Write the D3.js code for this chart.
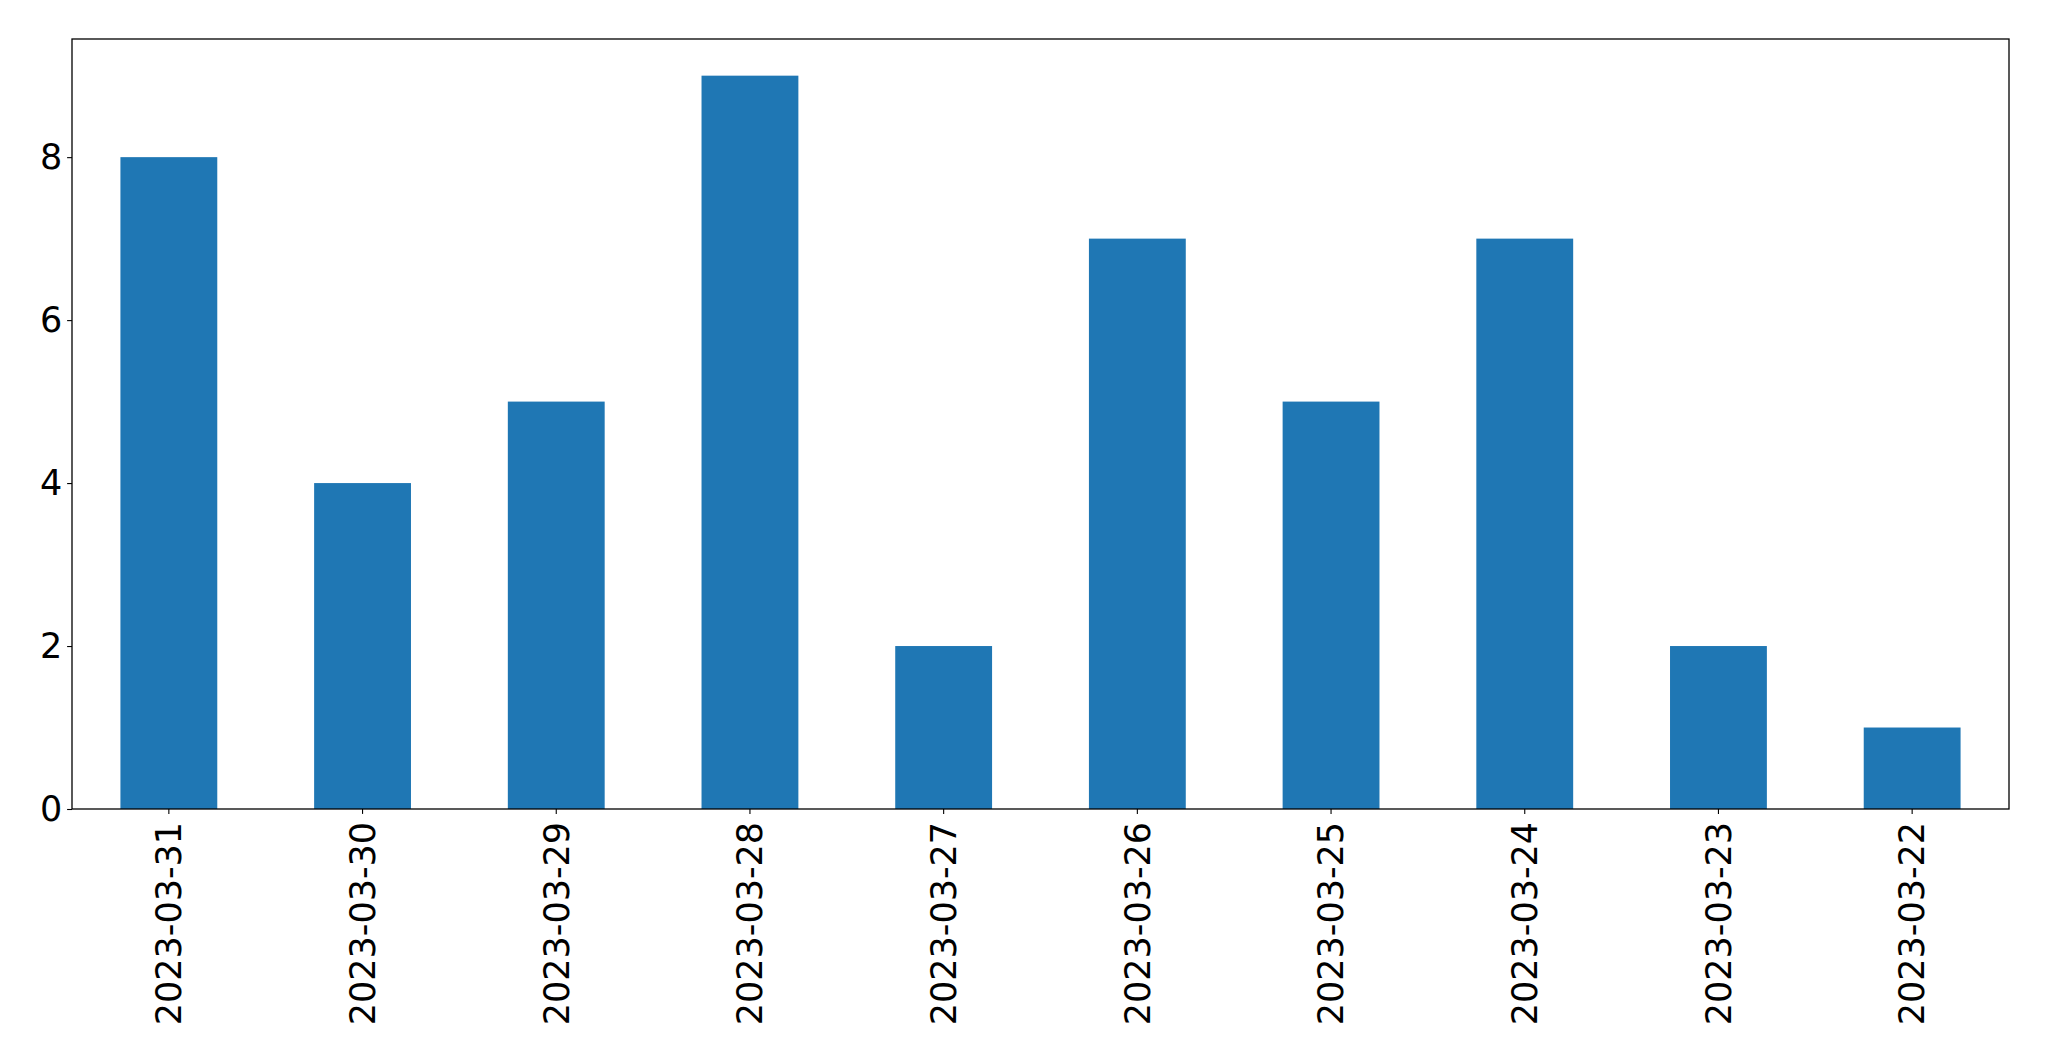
<!DOCTYPE html>
<html><head><meta charset="utf-8">
<script src="https://cdn.jsdelivr.net/npm/d3@7"></script>
<style>html,body{margin:0;padding:0;background:#fff;}svg{display:block;}</style>
</head><body>
<script>
const categories = ["2023-03-31","2023-03-30","2023-03-29","2023-03-28","2023-03-27","2023-03-26","2023-03-25","2023-03-24","2023-03-23","2023-03-22"];
const values = [8,4,5,9,2,7,5,7,2,1];
const yTicks = [0,2,4,6,8];

const W = 2049, H = 1061;
const m = {left:72, top:39, right:2049-2009, bottom:1061-809};
const svg = d3.select("body").append("svg").attr("width",W).attr("height",H);
const iw = W-m.left-m.right, ih = H-m.top-m.bottom;
const g = svg.append("g").attr("transform",`translate(${m.left},${m.top})`);

const x = d3.scaleBand().domain(categories).range([0,iw]).paddingInner(0.5).paddingOuter(0.25);
const y = d3.scaleLinear().domain([0, 9.45]).range([ih,0]);

g.selectAll("rect.bar").data(values).join("rect")
  .attr("class","bar")
  .attr("x",(d,i)=>x(categories[i]))
  .attr("width",x.bandwidth())
  .attr("y",d=>y(d))
  .attr("height",d=>ih-y(d))
  .attr("fill","#1f77b4");

const font = "'DejaVu Sans', sans-serif";
const fs = "35px";

const yAxis = g.append("g").call(d3.axisLeft(y).tickValues(yTicks).tickFormat(d3.format("d")).tickSize(4.9).tickPadding(4.9));
yAxis.select(".domain").remove();
yAxis.selectAll("line").attr("stroke","#000").attr("stroke-width",1.1);
yAxis.selectAll("text").attr("font-family",font).attr("font-size",fs).attr("fill","#000");

const xAxis = g.append("g").attr("transform",`translate(0,${ih})`)
  .call(d3.axisBottom(x).tickSize(4.9).tickPadding(4.9));
xAxis.select(".domain").remove();
xAxis.selectAll("line").attr("stroke","#000").attr("stroke-width",1.1);
xAxis.selectAll("text").attr("font-family",font).attr("font-size",fs).attr("fill","#000")
  .attr("transform","rotate(-90)")
  .attr("text-anchor","end")
  .attr("x",-12.9)
  .attr("y",0)
  .attr("dy","0.35em");

g.append("rect").attr("x",0).attr("y",0).attr("width",iw).attr("height",ih)
  .attr("fill","none").attr("stroke","#000").attr("stroke-width",1.3);
</script>
</body></html>
